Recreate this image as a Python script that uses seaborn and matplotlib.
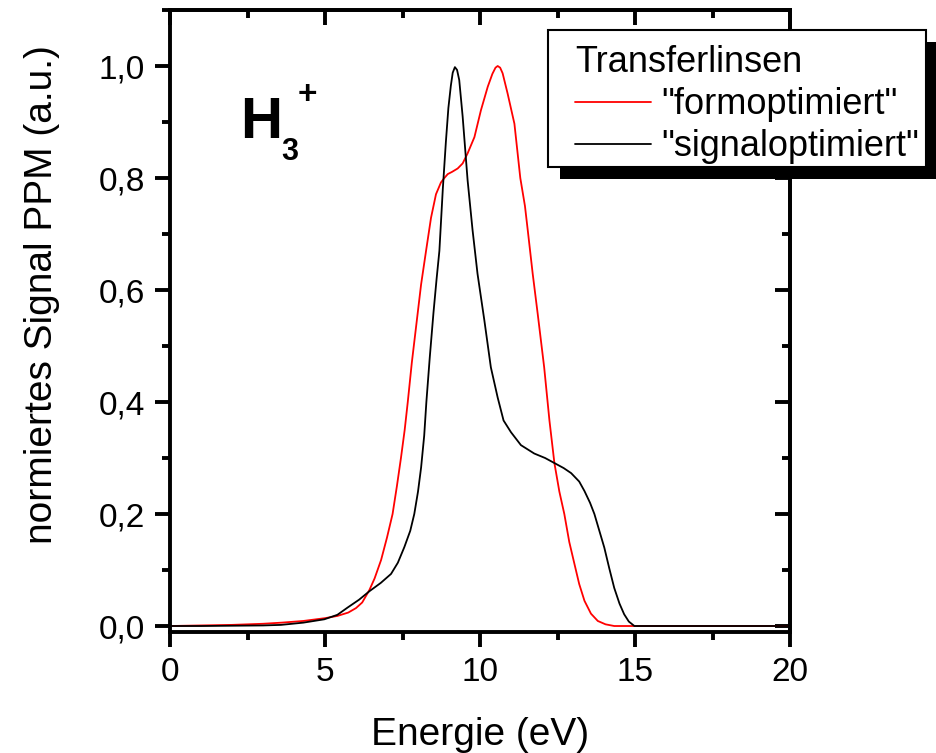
import numpy as np
import pandas as pd
import seaborn as sns
import matplotlib.pyplot as plt
from matplotlib.patches import Rectangle
from matplotlib.transforms import IdentityTransform
from matplotlib.ticker import MultipleLocator, FuncFormatter

sns.set_style("ticks")
plt.rcParams['font.family'] = ['Liberation Sans', 'DejaVu Sans']
plt.rcParams.update({'text.color': 'black', 'axes.labelcolor': 'black',
                     'xtick.color': 'black', 'ytick.color': 'black'})

# Transfer lens setting "formoptimiert": energy (eV) and normalised PPM signal
energy_form = [0.0, 1.0, 2.0, 3.0, 3.6, 4.3, 5.0, 5.4, 5.75, 6.0, 6.2, 6.43, 6.6,
               6.81, 7.0, 7.18, 7.32, 7.45, 7.57, 7.67, 7.80, 7.95, 8.10, 8.26,
               8.42, 8.58, 8.74, 8.85, 8.96, 9.10, 9.28, 9.44, 9.60, 9.82, 10.03,
               10.25, 10.40, 10.50, 10.57, 10.65, 10.73, 10.89, 11.11, 11.30,
               11.45, 11.54, 11.70, 11.86, 12.07, 12.24, 12.40, 12.56, 12.72,
               12.88, 13.05, 13.20, 13.37, 13.58, 13.80, 14.05, 14.33, 15.0, 20.0]
signal_form = [0.000, 0.001, 0.002, 0.004, 0.006, 0.009, 0.014, 0.018, 0.024,
               0.032, 0.042, 0.064, 0.085, 0.118, 0.158, 0.200, 0.250, 0.300,
               0.350, 0.400, 0.470, 0.540, 0.610, 0.670, 0.729, 0.771, 0.792,
               0.800, 0.807, 0.811, 0.817, 0.826, 0.844, 0.873, 0.921, 0.963,
               0.986, 0.997, 1.000, 0.997, 0.987, 0.951, 0.897, 0.800, 0.750,
               0.707, 0.629, 0.558, 0.462, 0.367, 0.291, 0.240, 0.200, 0.150,
               0.110, 0.075, 0.045, 0.022, 0.009, 0.003, 0.000, 0.000, 0.000]

# Transfer lens setting "signaloptimiert"
energy_sig = [0.0, 1.0, 2.0, 3.0, 3.58, 4.3, 4.98, 5.4, 5.73, 6.1, 6.43, 6.8,
              7.13, 7.35, 7.56, 7.75, 7.88, 8.0, 8.1, 8.2, 8.27, 8.38, 8.5, 8.6,
              8.69, 8.8, 8.9, 8.98, 9.06, 9.12, 9.19, 9.26, 9.33, 9.44, 9.6,
              9.76, 9.92, 10.14, 10.35, 10.57, 10.76, 11.0, 11.32, 11.75, 12.1,
              12.4, 12.7, 12.94, 13.2, 13.37, 13.55, 13.69, 13.85, 14.01, 14.17,
              14.33, 14.5, 14.65, 14.8, 14.98, 20.0]
signal_sig = [0.000, 0.000, 0.0005, 0.001, 0.002, 0.006, 0.012, 0.020, 0.033,
              0.047, 0.062, 0.077, 0.093, 0.113, 0.141, 0.170, 0.200, 0.240,
              0.283, 0.340, 0.400, 0.480, 0.560, 0.620, 0.670, 0.780, 0.865,
              0.925, 0.965, 0.988, 0.998, 0.993, 0.975, 0.910, 0.796, 0.707,
              0.629, 0.546, 0.462, 0.408, 0.367, 0.346, 0.323, 0.308, 0.300,
              0.291, 0.282, 0.273, 0.258, 0.241, 0.220, 0.200, 0.170, 0.140,
              0.103, 0.068, 0.040, 0.021, 0.008, 0.000, 0.000]

series_names = ['"formoptimiert"', '"signaloptimiert"']
series_colors = ['#ff0000', '#000000']

x_ticks = [0, 5, 10, 15, 20]
y_ticks = [0.0, 0.2, 0.4, 0.6, 0.8, 1.0]

df = pd.concat([
    pd.DataFrame({'Energie': energy_form, 'Signal': signal_form, 'Kurve': series_names[0]}),
    pd.DataFrame({'Energie': energy_sig, 'Signal': signal_sig, 'Kurve': series_names[1]}),
], ignore_index=True)

W, H = 936, 753
fig = plt.figure(figsize=(W / 100, H / 100), dpi=100)
ax = fig.add_axes([170 / W, 121 / H, 620 / W, 622 / H])

sns.lineplot(data=df, x='Energie', y='Signal', hue='Kurve', hue_order=series_names,
             palette=series_colors, linewidth=1.3, sort=False, estimator=None, ax=ax)

ax.set_xlim(0, 20)
ax.set_ylim(-0.0107, 1.1)

tick_font = 24
lw_axis = 2.8
comma_fmt = FuncFormatter(lambda v, p: f"{v:.1f}".replace('.', ','))

ax.set_xticks(x_ticks)
ax.set_yticks(y_ticks)
ax.xaxis.set_minor_locator(MultipleLocator(2.5))
ax.yaxis.set_minor_locator(MultipleLocator(0.1))
ax.yaxis.set_major_formatter(comma_fmt)
ax.tick_params(which='major', direction='out', length=11, width=lw_axis,
               labelsize=tick_font, pad=7, colors='black')
ax.tick_params(which='minor', direction='out', length=6, width=lw_axis)
for s in ax.spines.values():
    s.set_linewidth(lw_axis)
    s.set_color('black')

# mirrored axes on top and right with inward ticks
secx = ax.secondary_xaxis('top')
secx.set_xticks(x_ticks)
secx.xaxis.set_minor_locator(MultipleLocator(2.5))
secx.tick_params(which='major', direction='in', length=11, width=lw_axis, labeltop=False)
secx.tick_params(which='minor', direction='in', length=6, width=lw_axis)
secx.spines['top'].set_linewidth(lw_axis)
secy = ax.secondary_yaxis('right')
secy.set_yticks(y_ticks)
secy.yaxis.set_minor_locator(MultipleLocator(0.1))
secy.tick_params(which='major', direction='in', length=11, width=lw_axis, labelright=False)
secy.tick_params(which='minor', direction='in', length=6, width=lw_axis)
secy.spines['right'].set_linewidth(lw_axis)

ax.set_xlabel('Energie (eV)', fontsize=28)
ax.set_ylabel('normiertes Signal PPM (a.u.)', fontsize=28)
ax.xaxis.set_label_coords(0.5, -0.136)
ax.yaxis.set_label_coords(-0.178, 0.542)

# legend content placed without its own frame; the boxed frame is drawn below
leg = ax.legend(title='Transferlinsen', loc='upper left',
                bbox_to_anchor=((575 - 170) / 620, (632 - 45) / 622), borderaxespad=0,
                fontsize=26, title_fontsize=26, frameon=False, alignment='left',
                handlelength=2.1, handletextpad=0.3, borderpad=0,
                labelspacing=0.2)
leg.set_zorder(6)

# ion label
fig.text(240 / W, 1 - 138 / H, 'H', fontsize=42, fontweight='bold', ha='left', va='baseline')
fig.text(281 / W, 1 - 160 / H, '3', fontsize=22, fontweight='bold', ha='left', va='baseline')
fig.text(307 / W, 1 - 104 / H, '+', fontsize=24, fontweight='bold', ha='center', va='baseline')

# white legend box with black edge and a solid drop shadow
fig.canvas.draw()
bb = leg.get_window_extent()
x0, x1 = bb.x0 - 27, bb.x1 + 6
y0, y1 = bb.y0 - 3, 753 - 30
shadow = Rectangle((x0 + 12, y0 - 12), x1 - x0, y1 - y0,
                   transform=IdentityTransform(), facecolor='black',
                   edgecolor='none', clip_on=False, zorder=5.4)
frame = Rectangle((x0, y0), x1 - x0, y1 - y0,
                  transform=IdentityTransform(), facecolor='white',
                  edgecolor='black', linewidth=1.5, clip_on=False, zorder=5.5)
ax.add_artist(shadow)
ax.add_artist(frame)

fig.savefig('out.png', dpi=100)
